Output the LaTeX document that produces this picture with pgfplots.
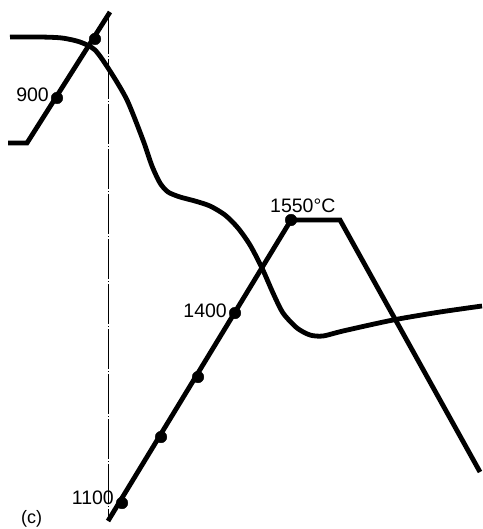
\documentclass[border=0pt]{standalone}
\usepackage{pgfplots}
\pgfplotsset{compat=1.18}
\usepackage{fontspec}
\setmainfont{Liberation Sans}
\begin{document}
\begin{tikzpicture}
\begin{axis}[
  scale only axis, width=482pt, height=529pt,
  xmin=0, xmax=482, ymin=0, ymax=529, y dir=reverse,
  axis lines=none, clip=false,
]
% thin dash-dot reference line
\addplot[black, line width=0.6pt, dash pattern=on 40pt off 2pt on 1pt off 2pt] coordinates {(108,14) (108,516)};
% curve
\addplot[black, line width=4.8pt, smooth, tension=0.45] coordinates {
(10,37) (40,37) (62,38) (80,42) (95,50) (110,71) (127,100) (143,140) (152,166) (160,183) (168,192) (180,197) (195,201) (210,206) (225,215) (238,228) (250,245) (262,268) (273,293) (283,313) (297,328) (310,335) (323,336) (343,331) (393,320) (440,312) (482,306)};
% upper straight segment
\addplot[black, line width=4.8pt] coordinates {(8,143) (27,143) (110,12)};
\addplot[black, only marks, mark=*, mark size=5.8pt] coordinates {(57,98) (95,39)};
% lower straight segment
\addplot[black, line width=4.8pt] coordinates {(108,521) (291,220) (340,220) (480,472)};
\addplot[black, only marks, mark=*, mark size=5.8pt] coordinates {(122,503) (161,437) (198,377) (235,313) (291,220)};
\node[anchor=east, font=\fontsize{19.5}{22}\selectfont, inner sep=0pt] at (axis cs:49,95) {900};
\node[anchor=east, font=\fontsize{19.5}{22}\selectfont, inner sep=0pt] at (axis cs:227,311) {1400};
\node[anchor=east, font=\fontsize{19.5}{22}\selectfont, inner sep=0pt] at (axis cs:114,498) {1100};
\node[anchor=base west, font=\fontsize{19.5}{22}\selectfont, inner sep=0pt] at (axis cs:270,212) {1550°C};
\node[anchor=west, font=\fontsize{18}{20}\selectfont, inner sep=0pt] at (axis cs:21,519) {(c)};
\end{axis}
\pgfresetboundingbox
\path (0,0) rectangle (482pt,529pt);
\end{tikzpicture}
\end{document}
